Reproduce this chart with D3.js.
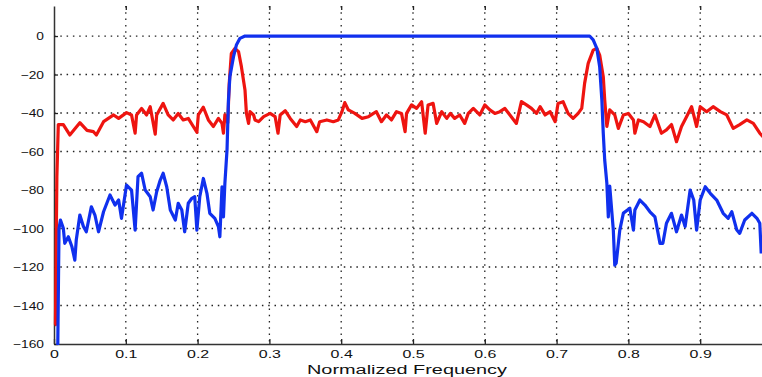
<!DOCTYPE html>
<html>
<head>
<meta charset="utf-8">
<script src="https://cdn.jsdelivr.net/npm/d3@7"></script>
<style>
  body { margin: 0; background: #fff; }
  #chart { width: 762px; height: 377px; }
</style>
</head>
<body>
<div id="chart"></div>
<script>
// axis ticks
const xTicks = [0, 0.1, 0.2, 0.3, 0.4, 0.5, 0.6, 0.7, 0.8, 0.9];
const yTicks = [0, -20, -40, -60, -80, -100, -120, -140, -160];

// red trace (frequency, dB)
const redFreq = [0.001, 0.002, 0.004, 0.006, 0.013, 0.022, 0.036, 0.046, 0.055, 0.059, 0.069, 0.083, 0.090, 0.101, 0.108, 0.113, 0.115,
  0.122, 0.129, 0.134, 0.141, 0.143, 0.152, 0.159, 0.166, 0.173, 0.180, 0.187, 0.199, 0.201, 0.208, 0.215, 0.222, 0.229,
  0.234, 0.236, 0.238, 0.242, 0.244, 0.247, 0.252, 0.257, 0.261, 0.266, 0.268, 0.271, 0.273, 0.278, 0.280, 0.285, 0.292,
  0.301, 0.308, 0.312, 0.315, 0.322, 0.329, 0.338, 0.343, 0.350, 0.357, 0.366, 0.370, 0.380, 0.389, 0.396, 0.401, 0.405,
  0.410, 0.419, 0.429, 0.438, 0.445, 0.449, 0.456, 0.463, 0.470, 0.477, 0.484, 0.489, 0.491, 0.498, 0.505, 0.512, 0.517,
  0.521, 0.528, 0.533, 0.540, 0.547, 0.552, 0.558, 0.565, 0.572, 0.577, 0.584, 0.593, 0.600, 0.607, 0.614, 0.621, 0.628,
  0.635, 0.644, 0.651, 0.658, 0.665, 0.672, 0.677, 0.684, 0.691, 0.698, 0.702, 0.709, 0.716, 0.723, 0.730, 0.735, 0.739,
  0.744, 0.751, 0.756, 0.760, 0.765, 0.767, 0.770, 0.774, 0.781, 0.786, 0.793, 0.800, 0.807, 0.809, 0.814, 0.821, 0.830,
  0.837, 0.846, 0.853, 0.860, 0.867, 0.874, 0.881, 0.888, 0.895, 0.900, 0.909, 0.918, 0.928, 0.937, 0.946, 0.955, 0.965,
  0.974, 0.983, 0.989];
const redDb = [-150, -150, -73, -46, -46, -51.4, -45, -49, -49.7, -51.4, -44.5, -41, -42.8, -39.8, -41, -50.5, -41,
  -37.6, -41, -36.7, -51, -41, -35, -41, -43.6, -40.2, -43.6, -42.8, -50, -41, -37, -43.6, -47, -42.8,
  -45.4, -50.5, -41, -45, -25, -9, -6.4, -8.1, -15.9, -28, -40.2, -45.4, -39.3, -41, -43.6, -44.5, -41.9,
  -40.2, -41.9, -50.5, -41, -38.8, -42.8, -47, -43.6, -44.5, -43.6, -49.7, -44.5, -43.6, -44.5, -43.6, -39.3, -34.6,
  -38.4, -40.2, -42.8, -41.9, -40.2, -39.3, -44.5, -41, -43.6, -39.3, -40.2, -49.7, -40.2, -35.8, -37.6, -34.1, -50.5,
  -35.8, -35, -45.4, -39.3, -42.8, -40.2, -42.8, -41, -45.4, -40.2, -37.6, -41, -35.8, -38.4, -40.2, -39.3, -37.6,
  -41, -45.4, -34.1, -35.8, -37.6, -40.2, -36.7, -41, -39.3, -44.5, -35, -34.1, -40.2, -42.8, -40.2, -37.6, -24.6,
  -14.2, -7.3, -6.4, -9.9, -21.1, -33.2, -47, -38.4, -41, -48, -41, -40.2, -43.6, -50.5, -43.6, -44.5, -47,
  -41, -50.5, -48.8, -46, -54.9, -47, -41.9, -36.7, -47, -36.7, -39.3, -36.7, -39.3, -41, -48, -46, -43.6,
  -45.4, -50.5, -53];

// blue trace (frequency, dB)
const blueFreq = [0.005, 0.007, 0.009, 0.013, 0.015, 0.020, 0.025, 0.029, 0.031, 0.036, 0.041, 0.045, 0.052, 0.057, 0.062,
  0.069, 0.078, 0.085, 0.090, 0.094, 0.101, 0.108, 0.113, 0.117, 0.122, 0.127, 0.134, 0.138, 0.143, 0.148, 0.152, 0.157,
  0.162, 0.169, 0.173, 0.178, 0.182, 0.187, 0.192, 0.196, 0.199, 0.203, 0.208, 0.213, 0.217, 0.224, 0.229, 0.231, 0.234,
  0.236, 0.238, 0.241, 0.243, 0.245, 0.250, 0.254, 0.259, 0.266, 0.746, 0.751, 0.756, 0.760, 0.763, 0.765, 0.767, 0.770,
  0.772, 0.774, 0.779, 0.781, 0.783, 0.788, 0.793, 0.802, 0.807, 0.809, 0.816, 0.823, 0.830, 0.837, 0.844, 0.848, 0.853,
  0.860, 0.867, 0.874, 0.879, 0.886, 0.891, 0.895, 0.900, 0.907, 0.914, 0.923, 0.932, 0.939, 0.944, 0.951, 0.955, 0.962,
  0.972, 0.979, 0.983, 0.985];
const blueDb = [-170, -100, -95.6, -99.9, -107.7, -104.3, -109.5, -116.4, -106, -93, -99, -101.7, -88.7, -93, -101.7,
  -91.3, -82.6, -87.8, -85.2, -94.7, -77.4, -80, -100.8, -73.1, -71.3, -80, -83.5, -90.4, -80.9, -74.8, -71.3, -78.3,
  -90.4, -95.6, -86.9, -90.4, -101.7, -86.9, -84.3, -83.5, -100.8, -83.5, -74, -81.7, -92.1, -94.7, -99, -104.3, -78.3,
  -94, -76.5, -59, -33, -21, -10.7, -4.7, -1.2, 0, 0, -2, -6.4, -16, -33, -50.5, -64.4, -76.5,
  -94, -78, -100.8, -119, -118, -100.8, -92, -89.5, -100.8, -90.4, -85.2, -87.8, -91.3, -94, -107.7, -107.7, -97.3,
  -92.1, -101.7, -93, -99, -80, -85.2, -100.8, -85.2, -78.3, -81.7, -85.2, -92.1, -94.7, -91.3, -100.8, -102.5, -95.6,
  -92.1, -94.7, -97.3, -113];

const W = 762, H = 377;
const plotLeft = 54, plotTop = 6, plotBottom = 344;

const svg = d3.select("#chart").append("svg")
    .attr("width", W)
    .attr("height", H)
    .style("font-family", "'Liberation Sans', Arial, sans-serif");

const x = d3.scaleLinear().domain([0, 1]).range([plotLeft, plotLeft + 718]);
const y = d3.scaleLinear().domain([-160, 15.6]).range([plotBottom, plotTop]);

// dotted grid
const grid = svg.append("g")
    .attr("stroke", "#222")
    .attr("stroke-width", 1.3)
    .attr("stroke-dasharray", "1.5,4.8");

grid.selectAll(".vg")
  .data(xTicks.slice(1))
  .join("line")
    .attr("x1", d => x(d)).attr("x2", d => x(d))
    .attr("y1", plotTop).attr("y2", plotBottom);

grid.selectAll(".hg")
  .data(yTicks.slice(0, -1))
  .join("line")
    .attr("x1", plotLeft).attr("x2", W)
    .attr("y1", d => y(d)).attr("y2", d => y(d));

// axes (drawn under the traces)
const xAxis = svg.append("g")
    .attr("transform", `translate(0,${plotBottom})`)
    .call(d3.axisBottom(x).tickValues(xTicks).tickSize(-5).tickSizeOuter(0).tickPadding(6)
      .tickFormat(d => d === 0 ? "0" : d3.format(".1f")(d)));

xAxis.selectAll("text")
    .attr("font-size", 11)
    .attr("fill", "#111")
    .attr("transform", "scale(1.45,1)");

const yAxis = svg.append("g")
    .attr("transform", `translate(${plotLeft},0)`)
    .call(d3.axisLeft(y).tickValues(yTicks).tickSize(-4).tickSizeOuter(0).tickPadding(0));

yAxis.selectAll("text")
    .attr("x", 0)
    .attr("font-size", 11)
    .attr("fill", "#111")
    .attr("transform", "translate(-10,0) scale(1.25,1)");

svg.append("g")
    .attr("transform", `translate(0,${plotTop})`)
    .call(d3.axisTop(x).tickValues(xTicks.slice(1)).tickSize(-4).tickFormat(""))
    .call(g => g.select(".domain").remove());

svg.selectAll(".domain").attr("stroke", "#333").attr("stroke-width", 1.5);
svg.selectAll(".tick line").attr("stroke", "#222").attr("stroke-width", 1.3);

// traces
svg.append("clipPath").attr("id", "plot")
  .append("rect").attr("x", plotLeft - 2).attr("y", plotTop).attr("width", W - plotLeft + 2).attr("height", plotBottom - plotTop + 1);

const line = d3.line()
    .x(d => x(d[0]))
    .y(d => y(d[1]));

svg.append("path")
    .datum(d3.zip(redFreq, redDb))
    .attr("clip-path", "url(#plot)")
    .attr("fill", "none")
    .attr("stroke", "#ee1410")
    .attr("stroke-width", 3.2)
    .attr("stroke-linejoin", "round")
    .attr("d", line);

svg.append("path")
    .datum(d3.zip(blueFreq, blueDb))
    .attr("clip-path", "url(#plot)")
    .attr("fill", "none")
    .attr("stroke", "#1030ee")
    .attr("stroke-width", 3.2)
    .attr("stroke-linejoin", "round")
    .attr("d", line);

// x label
svg.append("text")
    .attr("x", 307)
    .attr("y", 374)
    .attr("font-size", 12.5)
    .attr("fill", "#111")
    .attr("textLength", 200)
    .attr("lengthAdjust", "spacingAndGlyphs")
    .text("Normalized Frequency");
</script>
</body>
</html>
